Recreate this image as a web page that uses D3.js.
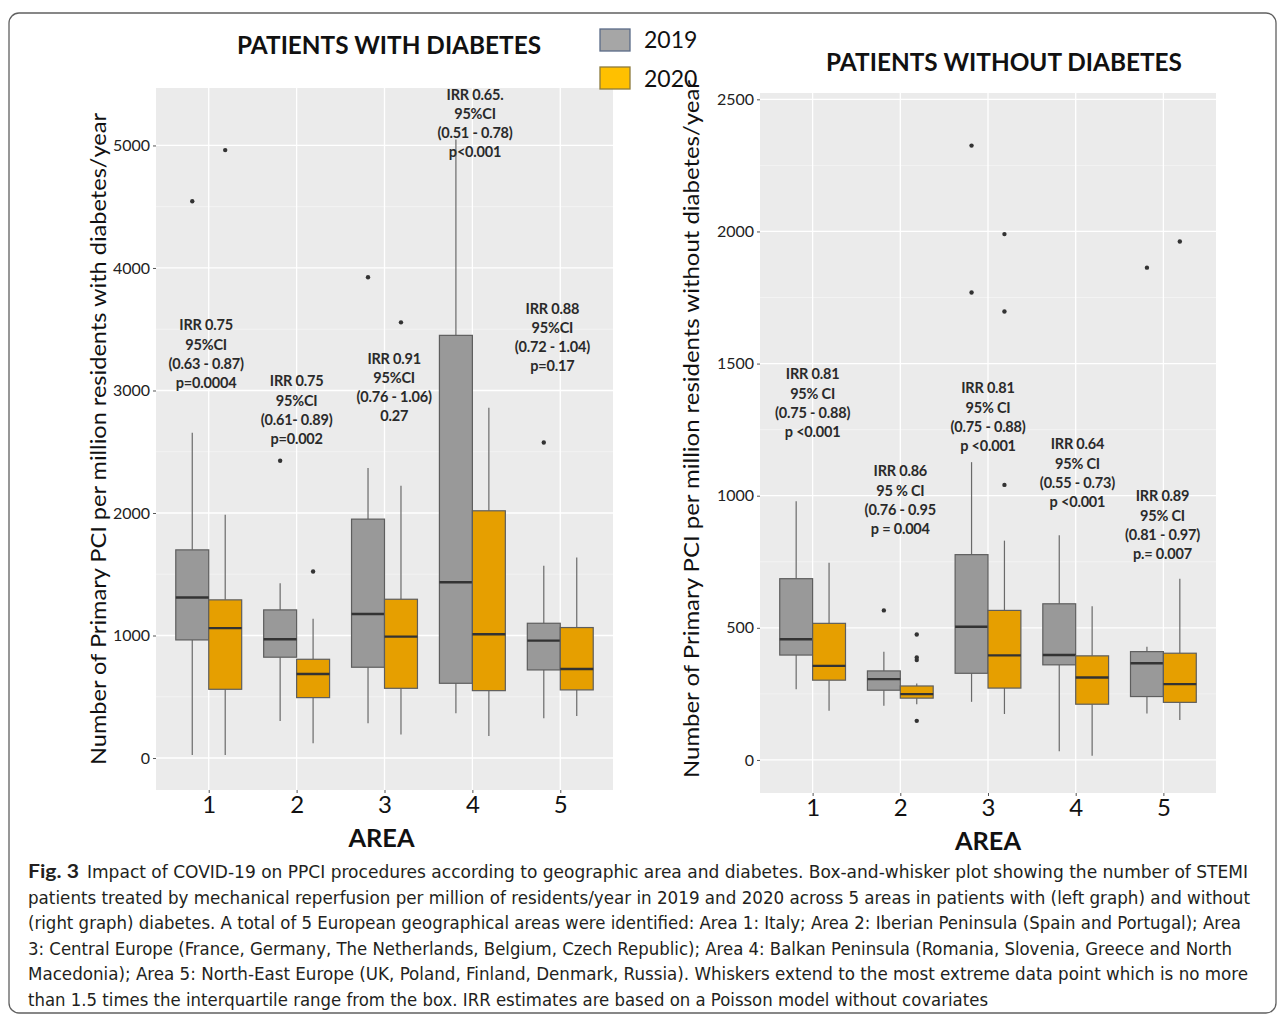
<!DOCTYPE html>
<html>
<head>
<meta charset="utf-8">
<script src="https://cdn.jsdelivr.net/npm/d3@7"></script>
<style>
  html, body { margin: 0; padding: 0; background: #ffffff; }
  svg { display: block; }
</style>
</head>
<body>
<svg id="chart" width="1284" height="1023"></svg>
<script>
// ---------------- DATA ----------------
const areas = ["1", "2", "3", "4", "5"];
const years = ["2019", "2020"];
const yearColors = ["#999999", "#E69F00"];

// Patients WITH diabetes: [lower whisker, Q1, median, Q3, upper whisker] per area
const withDiab2019 = [[25, 964, 1310, 1699, 2655], [302, 823, 970, 1209, 1427], [283, 741, 1176, 1950, 2367], [365, 610, 1435, 3450, 5049], [324, 719, 958, 1100, 1569]];
const withDiab2020 = [[25, 561, 1060, 1291, 1985], [120, 493, 686, 806, 1136], [191, 569, 991, 1296, 2222], [180, 550, 1010, 2018, 2859], [343, 556, 727, 1065, 1637]];
const withDiabOut2019 = [[4545], [2426], [3924], [], [2576]];
const withDiabOut2020 = [[4962], [1522], [3556], [], []];
const withTicks = [0, 1000, 2000, 3000, 4000, 5000];
const withMinor = [500, 1500, 2500, 3500, 4500];

// Patients WITHOUT diabetes
const withoutDiab2019 = [[268, 397, 457, 686, 979], [205, 264, 306, 337, 410], [220, 328, 504, 777, 1127], [33, 360, 397, 591, 850], [176, 240, 366, 410, 428]];
const withoutDiab2020 = [[186, 302, 356, 517, 746], [211, 234, 249, 280, 289], [174, 272, 396, 566, 830], [16, 211, 312, 394, 582], [151, 218, 287, 404, 686]];
const withoutDiabOut2019 = [[], [566], [2325, 1769], [], [1863]];
const withoutDiabOut2020 = [[], [475, 388, 378, 148], [1990, 1697, 1041], [], [1962]];
const withoutTicks = [0, 500, 1000, 1500, 2000, 2500];
const withoutMinor = [250, 750, 1250, 1750, 2250];

// IRR annotations (text lines), anchored at area position / value of the first line
const withIRR = [
  ["IRR 0.75", "95%CI", "(0.63 - 0.87)", "p=0.0004"],
  ["IRR 0.75", "95%CI", "(0.61- 0.89)", "p=0.002"],
  ["IRR 0.91", "95%CI", "(0.76 - 1.06)", "0.27"],
  ["IRR 0.65.", "95%CI", "(0.51 - 0.78)", "p<0.001"],
  ["IRR 0.88", "95%CI", "(0.72 - 1.04)", "p=0.17"]
];
const withIRRx = [0.97, 2.0, 3.11, 4.03, 4.91];
const withIRRy = [3535, 3078, 3265, 5420, 3673];

const withoutIRR = [
  ["IRR 0.81", "95% CI", "(0.75 - 0.88)", "p <0.001"],
  ["IRR 0.86", "95 % CI", "(0.76 - 0.95", "p = 0.004"],
  ["IRR 0.81", "95%  CI", "(0.75 - 0.88)", "p <0.001"],
  ["IRR 0.64", "95% CI", "(0.55 - 0.73)", "p <0.001"],
  ["IRR 0.89", "95% CI", "(0.81 - 0.97)", "p.= 0.007"]
];
const withoutIRRx = [1.0, 2.0, 3.0, 4.02, 4.99];
const withoutIRRy = [1461, 1094, 1408, 1196, 999];

const captionLines = [
  "Impact of COVID-19 on PPCI procedures according to geographic area and diabetes. Box-and-whisker plot showing the number of STEMI",
  "patients treated by mechanical reperfusion per million of residents/year in 2019 and 2020 across 5 areas in patients with (left graph) and without",
  "(right graph) diabetes. A total of 5 European geographical areas were identified: Area 1: Italy; Area 2: Iberian Peninsula (Spain and Portugal); Area",
  "3: Central Europe (France, Germany, The Netherlands, Belgium, Czech Republic); Area 4: Balkan Peninsula (Romania, Slovenia, Greece and North",
  "Macedonia); Area 5: North-East Europe (UK, Poland, Finland, Denmark, Russia). Whiskers extend to the most extreme data point which is no more",
  "than 1.5 times the interquartile range from the box. IRR estimates are based on a Poisson model without covariates"
];

// ---------------- DRAW ----------------
const svg = d3.select("#chart");
const FONT = "Lato, 'Open Sans', 'Liberation Sans', sans-serif";

svg.append("rect").attr("x", 0).attr("y", 0).attr("width", 1284).attr("height", 1023).attr("fill", "#fff");
svg.append("rect").attr("x", 9).attr("y", 13).attr("width", 1267).attr("height", 1000)
  .attr("rx", 10).attr("fill", "none").attr("stroke", "#606060").attr("stroke-width", 1.3);

function drawPanel(cfg) {
  const g = svg.append("g");
  const y = d3.scaleLinear().domain(cfg.domain).range([cfg.y1, cfg.y0]);
  const x = d3.scalePoint().domain(areas).range([cfg.x0, cfg.x1]).padding(0.6);
  const xNum = d3.scaleLinear().domain([1, 5]).range([x("1"), x("5")]);
  const dodge = d3.scaleBand().domain(years).range([-0.375 * x.step(), 0.375 * x.step()]);

  g.append("rect").attr("x", cfg.x0).attr("y", cfg.y0)
    .attr("width", cfg.x1 - cfg.x0).attr("height", cfg.y1 - cfg.y0).attr("fill", "#EBEBEB");

  g.selectAll(".minor").data(cfg.minor).join("line")
    .attr("x1", cfg.x0).attr("x2", cfg.x1).attr("y1", d => y(d)).attr("y2", d => y(d))
    .attr("stroke", "#f7f7f7").attr("stroke-width", 0.7);
  g.selectAll(".hmajor").data(cfg.ticks).join("line")
    .attr("x1", cfg.x0).attr("x2", cfg.x1).attr("y1", d => y(d)).attr("y2", d => y(d))
    .attr("stroke", "#ffffff").attr("stroke-width", 1.3);
  g.selectAll(".vmajor").data(areas).join("line")
    .attr("x1", d => x(d)).attr("x2", d => x(d)).attr("y1", cfg.y0).attr("y2", cfg.y1)
    .attr("stroke", "#ffffff").attr("stroke-width", 1.3);

  const bw = dodge.bandwidth();
  cfg.stats.forEach((series, yi) => {
    const yr = years[yi];
    series.forEach((s, ai) => {
      const cx = x(areas[ai]) + dodge(yr) + bw / 2;
      const [lo, q1, med, q3, hi] = s;
      g.append("line").attr("x1", cx).attr("x2", cx).attr("y1", y(hi)).attr("y2", y(q3))
        .attr("stroke", "#6a6a6a").attr("stroke-width", 1.2);
      g.append("line").attr("x1", cx).attr("x2", cx).attr("y1", y(q1)).attr("y2", y(lo))
        .attr("stroke", "#6a6a6a").attr("stroke-width", 1.2);
      g.append("rect").attr("x", cx - bw / 2).attr("y", y(q3))
        .attr("width", bw).attr("height", y(q1) - y(q3))
        .attr("fill", yearColors[yi]).attr("stroke", "#5e5e5e").attr("stroke-width", 1.2);
      g.append("line").attr("x1", cx - bw / 2).attr("x2", cx + bw / 2).attr("y1", y(med)).attr("y2", y(med))
        .attr("stroke", "#333333").attr("stroke-width", 2.4);
      cfg.outliers[yi][ai].forEach(v => {
        g.append("circle").attr("cx", cx).attr("cy", y(v)).attr("r", 2.2).attr("fill", "#333");
      });
    });
  });

  // annotations
  cfg.irr.forEach((lines, i) => {
    const cx = xNum(cfg.irrX[i]);
    const cy = y(cfg.irrY[i]);
    lines.forEach((t, k) => {
      g.append("text").attr("x", cx).attr("y", cy + k * 19.2)
        .attr("text-anchor", "middle").attr("dominant-baseline", "central")
        .attr("font-family", FONT).attr("font-weight", 700).attr("font-size", 14.5)
        .attr("letter-spacing", -0.2)
        .attr("fill", "#2a2a2a").text(t);
    });
  });

  // axes
  const ay = g.append("g").attr("transform", `translate(${cfg.x0},0)`)
    .call(d3.axisLeft(y).tickValues(cfg.ticks).tickSize(3).tickPadding(3).tickFormat(d3.format("d")));
  ay.select(".domain").remove();
  ay.selectAll(".tick line").attr("stroke", "#555");
  ay.selectAll(".tick text").attr("font-family", FONT).attr("font-size", 16).attr("fill", "#222");

  const ax = g.append("g").attr("transform", `translate(0,${cfg.y1})`)
    .call(d3.axisBottom(x).tickSize(3).tickPadding(3));
  ax.select(".domain").remove();
  ax.selectAll(".tick line").attr("stroke", "#555");
  ax.selectAll(".tick text").attr("font-family", FONT).attr("font-size", 24).attr("fill", "#111")
    .attr("dy", 0).attr("y", 23);

  // titles
  g.append("text").attr("x", cfg.titleX).attr("y", cfg.titleY).attr("text-anchor", "middle")
    .attr("font-family", FONT).attr("font-weight", 700).attr("font-size", 25).attr("fill", "#111")
    .attr("textLength", cfg.titleW).attr("lengthAdjust", "spacingAndGlyphs").text(cfg.title);
  g.append("text").attr("x", (cfg.x0 + cfg.x1) / 2 + cfg.areaDx).attr("y", cfg.areaY).attr("text-anchor", "middle")
    .attr("font-family", FONT).attr("font-weight", 700).attr("font-size", 25).attr("fill", "#111")
    .attr("textLength", 66).attr("lengthAdjust", "spacingAndGlyphs").text("AREA");
  g.append("text").attr("transform", `translate(${cfg.ytX},${cfg.ytY}) rotate(-90)`)
    .attr("text-anchor", "middle").attr("dominant-baseline", "central")
    .attr("font-family", FONT).attr("font-size", 22).attr("fill", "#111")
    .attr("textLength", cfg.ytW).attr("lengthAdjust", "spacingAndGlyphs").text(cfg.yTitle);
}

drawPanel({
  x0: 156, x1: 613, y0: 88, y1: 790, domain: [-261, 5469],
  ticks: withTicks, minor: withMinor,
  stats: [withDiab2019, withDiab2020], outliers: [withDiabOut2019, withDiabOut2020],
  irr: withIRR, irrX: withIRRx, irrY: withIRRy,
  title: "PATIENTS WITH DIABETES", titleX: 389, titleY: 54, titleW: 304,
  areaY: 847, areaDx: -3,
  yTitle: "Number of Primary PCI per million residents with diabetes/year", ytX: 97, ytY: 439, ytW: 652
});
drawPanel({
  x0: 760, x1: 1216, y0: 93, y1: 793, domain: [-125, 2524],
  ticks: withoutTicks, minor: withoutMinor,
  stats: [withoutDiab2019, withoutDiab2020], outliers: [withoutDiabOut2019, withoutDiabOut2020],
  irr: withoutIRR, irrX: withoutIRRx, irrY: withoutIRRy,
  title: "PATIENTS WITHOUT DIABETES", titleX: 1004, titleY: 71, titleW: 356,
  areaY: 850, areaDx: 0,
  yTitle: "Number of Primary PCI per million residents without diabetes/year", ytX: 690, ytY: 429, ytW: 698
});

// legend
const leg = svg.append("g");
const legStroke = ["#5a6b88", "#8c7a3c"];
const legFill = ["#a6a6a6", "#FFC000"];
years.forEach((yr, i) => {
  leg.append("rect").attr("x", 600).attr("y", 29 + i * 38).attr("width", 30).attr("height", 22)
    .attr("fill", legFill[i]).attr("stroke", legStroke[i]).attr("stroke-width", 1.3);
  leg.append("text").attr("x", 644).attr("y", 48 + i * 38.5)
    .attr("font-family", FONT).attr("font-size", 23).attr("fill", "#111").text(yr);
});

// caption
const cap = svg.append("g").attr("font-family", "'Liberation Sans Narrow', 'DejaVu Sans Condensed', Lato, sans-serif")
  .attr("font-size", 18).attr("fill", "#231f20");
const capRight = [1248, 1250, 1241, 1232, 1248, 988];
captionLines.forEach((t, i) => {
  const x0 = i === 0 ? 87 : 28;
  const yb = 878 + i * 25.5;
  cap.append("text").attr("x", x0).attr("y", yb)
    .attr("textLength", capRight[i] - x0).attr("lengthAdjust", "spacingAndGlyphs").text(t);
});
cap.append("text").attr("x", 28).attr("y", 878).attr("font-weight", 700)
  .attr("font-family", "Lato, 'Open Sans', sans-serif")
  .attr("textLength", 51).attr("lengthAdjust", "spacingAndGlyphs").text("Fig. 3");
</script>
</body>
</html>
